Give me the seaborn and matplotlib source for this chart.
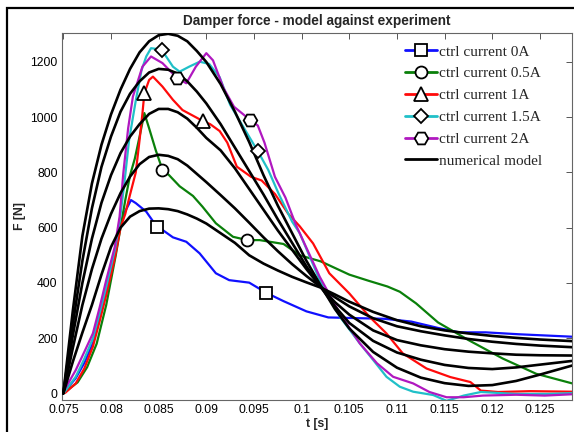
import numpy as np
import pandas as pd
import matplotlib
matplotlib.use("Agg")
import matplotlib.pyplot as plt
import seaborn as sns
from matplotlib.lines import Line2D
from matplotlib.patches import Rectangle

# ---------------- experimental data ----------------
t_0A = [0.0751, 0.0763, 0.0772, 0.0781, 0.0788, 0.0795, 0.0804, 0.0809, 0.0815, 0.0821, 0.0826,
        0.0837, 0.0848, 0.0854, 0.0865, 0.0879, 0.0893, 0.0910, 0.0924, 0.0945, 0.0963, 0.0981,
        0.1005, 0.1028, 0.1051, 0.1087, 0.1115, 0.1143, 0.1165, 0.1193, 0.1228, 0.1285]
F_0A = [5, 55, 110, 182, 270, 374, 508, 600, 660, 700, 689,
        658, 604, 592, 565, 549, 507, 435, 410, 401, 364, 334,
        297, 275, 273, 270, 260, 237, 221, 221, 214, 205]
mk_0A = [0.0848, 0.0963]

t_05A = [0.0751, 0.0765, 0.0775, 0.0785, 0.0795, 0.0805, 0.0810, 0.0815, 0.0820, 0.0825, 0.0830,
         0.0835, 0.0840, 0.0847, 0.0854, 0.0861, 0.0872, 0.0886, 0.0896, 0.0910, 0.0928, 0.0943,
         0.0956, 0.0981, 0.0998, 0.1020, 0.1050, 0.1070, 0.1090, 0.1103, 0.1120, 0.1143, 0.1175,
         0.1211, 0.1246, 0.1285]
F_05A = [3, 40, 95, 180, 320, 500, 600, 700, 790, 850, 930,
         1015, 960, 880, 810, 790, 750, 715, 676, 616, 567, 555,
         555, 541, 500, 478, 430, 408, 387, 368, 326, 257, 193,
         126, 71, 35]
mk_05A = [0.0854, 0.0943]

t_1A = [0.0752, 0.0763, 0.0772, 0.0781, 0.0788, 0.0795, 0.0804, 0.0810, 0.0815, 0.0820, 0.0826,
        0.0830, 0.0833, 0.0835, 0.0840, 0.0844, 0.0854, 0.0865, 0.0875, 0.0889, 0.0897, 0.0904,
        0.0914, 0.0922, 0.0932, 0.0947, 0.0958, 0.0972, 0.0986, 0.0998, 0.1012, 0.1029, 0.1050,
        0.1071, 0.1089, 0.1106, 0.1131, 0.1156, 0.1177, 0.1188, 0.1206, 0.1240, 0.1285]
F_1A = [2, 36, 90, 169, 260, 356, 490, 600, 650, 720, 800,
        918, 1014, 1087, 1135, 1147, 1111, 1063, 1026, 1000, 985, 975,
        950, 908, 821, 784, 771, 722, 650, 605, 543, 435, 362,
        278, 217, 145, 90, 59, 41, 10, 5, 8, 6]
mk_1A = [0.0835, 0.0897]

t_15A = [0.0751, 0.0763, 0.0772, 0.0781, 0.0788, 0.0795, 0.0804, 0.0809, 0.0814, 0.0819, 0.0826,
         0.0832, 0.0837, 0.0842, 0.0853, 0.0865, 0.0872, 0.0882, 0.0893, 0.0903, 0.0914, 0.0925,
         0.0940, 0.0954, 0.0965, 0.0976, 0.0990, 0.0998, 0.1019, 0.1040, 0.1061, 0.1075, 0.1089,
         0.1103, 0.1117, 0.1138, 0.1152, 0.1170, 0.1188, 0.1224, 0.1259, 0.1285]
F_15A = [4, 60, 125, 199, 290, 386, 519, 620, 760, 918, 1060,
         1170, 1220, 1250, 1245, 1183, 1165, 1183, 1201, 1193, 1145, 1045,
         958, 877, 809, 722, 622, 580, 410, 278, 181, 121, 60,
         24, 6, -6, -27, -8, 5, -2, -2, 1]
mk_15A = [0.0853, 0.0954]

t_2A = [0.0750, 0.0763, 0.0772, 0.0781, 0.0788, 0.0795, 0.0804, 0.0809, 0.0813, 0.0818, 0.0823,
        0.0833, 0.0842, 0.0854, 0.0869, 0.0879, 0.0889, 0.0900, 0.0907, 0.0918, 0.0929, 0.0940,
        0.0946, 0.0954, 0.0961, 0.0972, 0.0983, 0.0994, 0.1019, 0.1040, 0.1061, 0.1079, 0.1096,
        0.1117, 0.1134, 0.1152, 0.1170, 0.1190, 0.1225, 0.1255, 0.1285]
F_2A = [6, 84, 150, 217, 310, 410, 531, 640, 800, 960, 1075,
        1183, 1220, 1196, 1143, 1123, 1183, 1232, 1206, 1106, 1038, 1007,
        990, 970, 908, 784, 709, 610, 422, 290, 181, 109, 60,
        36, 5, -14, -14, -8, -5, -8, -3]
mk_2A = [0.0869, 0.0946]

# ---------------- numerical model ----------------
t_model = [0.075, 0.076, 0.077, 0.078, 0.079, 0.080, 0.081, 0.082, 0.083, 0.084, 0.085, 0.086,
           0.087, 0.088, 0.089, 0.090, 0.0915, 0.093, 0.0945, 0.096, 0.0975, 0.099, 0.1005,
           0.102, 0.1035, 0.105, 0.1075, 0.110, 0.1125, 0.115, 0.1175, 0.120, 0.1225, 0.125, 0.1285]
M_0A = [0, 115, 220, 320, 430, 530, 600, 640, 660, 669, 670, 667,
        660, 648, 633, 615, 580, 545, 500, 470, 445, 422, 402,
        383, 358, 332, 295, 265, 243, 228, 217, 208, 201, 195, 189]
M_05A = [0, 165, 320, 450, 560, 650, 725, 785, 830, 856, 864, 860,
         848, 825, 795, 765, 718, 670, 618, 565, 515, 468, 425,
         385, 348, 315, 272, 243, 225, 210, 197, 187, 179, 173, 167]
M_1A = [0, 210, 400, 560, 690, 790, 870, 930, 975, 1012, 1030, 1030,
        1018, 995, 962, 925, 880, 815, 740, 665, 590, 520, 450,
        385, 330, 285, 228, 193, 174, 160, 151, 145, 140, 138, 137]
M_15A = [0, 250, 480, 670, 820, 930, 1020, 1085, 1130, 1162, 1175, 1172,
         1158, 1130, 1093, 1050, 975, 890, 805, 720, 630, 545, 460,
         385, 315, 255, 190, 148, 122, 103, 92, 88, 94, 104, 118]
M_2A = [0, 300, 570, 760, 900, 1010, 1100, 1175, 1235, 1275, 1297, 1302,
        1295, 1275, 1240, 1200, 1120, 1020, 910, 790, 680, 580, 480,
        390, 305, 235, 150, 93, 57, 37, 27, 30, 45, 68, 102]

labels = ["ctrl current 0A", "ctrl current 0.5A", "ctrl current 1A",
          "ctrl current 1.5A", "ctrl current 2A"]
colors = ["#1010ff", "#0a800a", "#ff0a0a", "#20c0c8", "#b018c0"]
markers = ["s", "o", "^", "D", "H"]
msizes = [8.2, 8.6, 9.6, 7.2, 9.8]

exp_t = [t_0A, t_05A, t_1A, t_15A, t_2A]
exp_F = [F_0A, F_05A, F_1A, F_15A, F_2A]
exp_mk = [mk_0A, mk_05A, mk_1A, mk_15A, mk_2A]
models = [M_0A, M_05A, M_1A, M_15A, M_2A]

# ---------------- style ----------------
sns.set_style("white")
plt.rcParams['font.family'] = ['Liberation Sans', 'DejaVu Sans']

W, H = 574, 432
fig = plt.figure(figsize=(W / 100, H / 100), dpi=100)
ax = fig.add_axes([61.7 / W, 1 - 400 / H, (572 - 61.7) / W, (400 - 33) / H])

# experimental curves
for t, F, c in zip(exp_t, exp_F, colors):
    df = pd.DataFrame({"t": t, "F": F})
    sns.lineplot(data=df, x="t", y="F", color=c, lw=1.6, sort=False,
                 estimator=None, ax=ax, zorder=2)

# model curves
for M in models:
    dfm = pd.DataFrame({"t": t_model, "F": M})
    sns.lineplot(data=dfm, x="t", y="F", color="black", lw=1.9, sort=False,
                 estimator=None, ax=ax, zorder=3)

# markers on experimental curves
for t, F, mk, m, ms in zip(exp_t, exp_F, exp_mk, markers, msizes):
    idx = [t.index(v) for v in mk]
    xs = [t[i] for i in idx]
    ys = [F[i] for i in idx]
    ax.plot(xs, ys, linestyle="none", marker=m, ms=ms, mfc="white",
            mec="black", mew=1.3, zorder=5)

ax.set_xlim(0.07483, 0.12836)
ax.set_ylim(-24, 1305)
ax.set_xticks([0.075, 0.08, 0.085, 0.09, 0.095, 0.1, 0.105, 0.11, 0.115, 0.12, 0.125])
ax.set_xticklabels(["0.075", "0.08", "0.085", "0.09", "0.095", "0.1", "0.105",
                    "0.11", "0.115", "0.12", "0.125"])
ax.set_yticks([0, 200, 400, 600, 800, 1000, 1200])
ax.tick_params(direction="in", length=4, width=0.7, color="#555555",
               labelsize=8.7, top=True, right=True, pad=3, labelcolor="black")
for s in ax.spines.values():
    s.set_color("#666666")
    s.set_linewidth(0.8)

ax.set_title("Damper force - model against experiment", fontsize=9.8,
             fontweight="bold", pad=6)
ax.set_xlabel("t [s]", fontsize=8.8, fontweight="bold", labelpad=1)
ax.set_ylabel("F [N]", fontsize=8.8, fontweight="bold", labelpad=3)

# legend
handles = []
for c, m, ms in zip(colors, markers, msizes):
    handles.append(Line2D([0], [0], color=c, lw=2, marker=m, ms=ms, mfc="white",
                          mec="black", mew=1.3))
handles.append(Line2D([0], [0], color="black", lw=2))
leg = ax.legend(handles, labels + ["numerical model"], loc="upper left",
                bbox_to_anchor=(405 / W, 1 - 45 / H), bbox_transform=fig.transFigure,
                frameon=False, borderpad=0, borderaxespad=0, handlelength=2.1,
                handletextpad=0.1, labelspacing=0.53, numpoints=1,
                prop={"family": "Liberation Serif", "size": 11})

# figure frame
fig.patches.append(Rectangle((7 / W, -0.2), 1.2, 1.2 - 8 / H, transform=fig.transFigure,
                             fill=False, edgecolor="black", lw=1.6, zorder=10))

fig.savefig("out.png", dpi=100)
